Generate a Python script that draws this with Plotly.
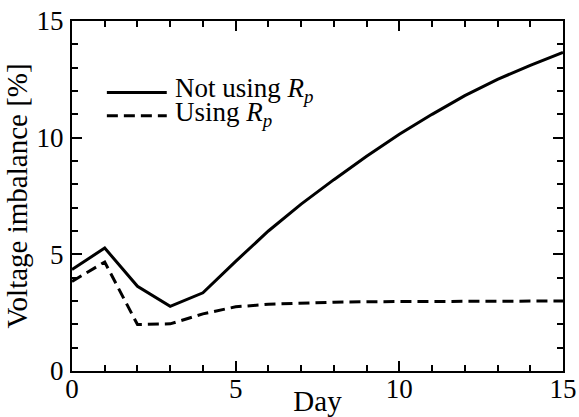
import plotly.graph_objects as go

days = list(range(16))
not_using_rp = [4.35, 5.27, 3.63, 2.77, 3.35, 4.7, 6.0, 7.15, 8.2, 9.2, 10.15, 11.0, 11.8, 12.5, 13.1, 13.65]
using_rp = [3.84, 4.67, 1.99, 2.02, 2.45, 2.75, 2.86, 2.92, 2.95, 2.97, 2.98, 2.99, 3.0, 3.0, 3.0, 3.0]
x_ticks = [0, 5, 10, 15]
y_ticks = [0, 5, 10, 15]
series_names = ["Not using <i>R</i><sub><i>p</i></sub>", "Using <i>R</i><sub><i>p</i></sub>"]

FONT = "Liberation Serif"
DASH = "11px,6px"

fig = go.Figure()
fig.add_trace(go.Scatter(x=days, y=not_using_rp, mode="lines", name=series_names[0],
                         line=dict(color="black", width=3), showlegend=False))
fig.add_trace(go.Scatter(x=days, y=using_rp, mode="lines", name=series_names[1],
                         line=dict(color="black", width=3, dash=DASH), showlegend=False))

axis_common = dict(
    showgrid=False, zeroline=False, showline=True, linecolor="black", linewidth=2,
    mirror="ticks", ticks="inside", ticklen=10, tickwidth=1.5, tickcolor="black",
    tickfont=dict(family=FONT, size=27, color="black"), automargin=False,
)
minor = dict(dtick=1, ticks="inside", ticklen=6, tickwidth=1.5, tickcolor="black")
fig.update_xaxes(range=[0, 15], tickvals=x_ticks, ticktext=[str(v) for v in x_ticks],
                 minor=minor, ticklabelstandoff=-7,
                 title=dict(text="Day", font=dict(family=FONT, size=29, color="black"), standoff=0),
                 **axis_common)
fig.update_yaxes(range=[0, 15], tickvals=y_ticks, ticktext=[str(v) for v in y_ticks],
                 minor=minor, ticklabelstandoff=1,
                 title=dict(text="Voltage imbalance [%]", font=dict(family=FONT, size=29, color="black"), standoff=0),
                 **axis_common)

# manual legend (paper coordinates)
leg_x0, leg_x1, leg_tx = 0.071, 0.193, 0.205
leg_y = [0.796, 0.729]
dashes = ["solid", DASH]
for name, yy, dsh in zip(series_names, leg_y, dashes):
    fig.add_shape(type="line", xref="paper", yref="paper", x0=leg_x0, x1=leg_x1, y0=yy, y1=yy,
                  line=dict(color="black", width=3, dash=dsh))
    fig.add_annotation(xref="paper", yref="paper", x=leg_tx, y=yy + 0.006, text=name,
                       showarrow=False, xanchor="left", yanchor="middle",
                       font=dict(family=FONT, size=27, color="black"))

fig.update_layout(
    width=579, height=417,
    margin=dict(l=72, r=16, t=21, b=46),
    plot_bgcolor="white", paper_bgcolor="white",
    font=dict(family=FONT, size=27, color="black"),
    showlegend=False,
)

fig.write_html("out.html", config={"displayModeBar": False},
               post_script="document.body.style.margin='0';document.body.style.overflow='hidden';")
